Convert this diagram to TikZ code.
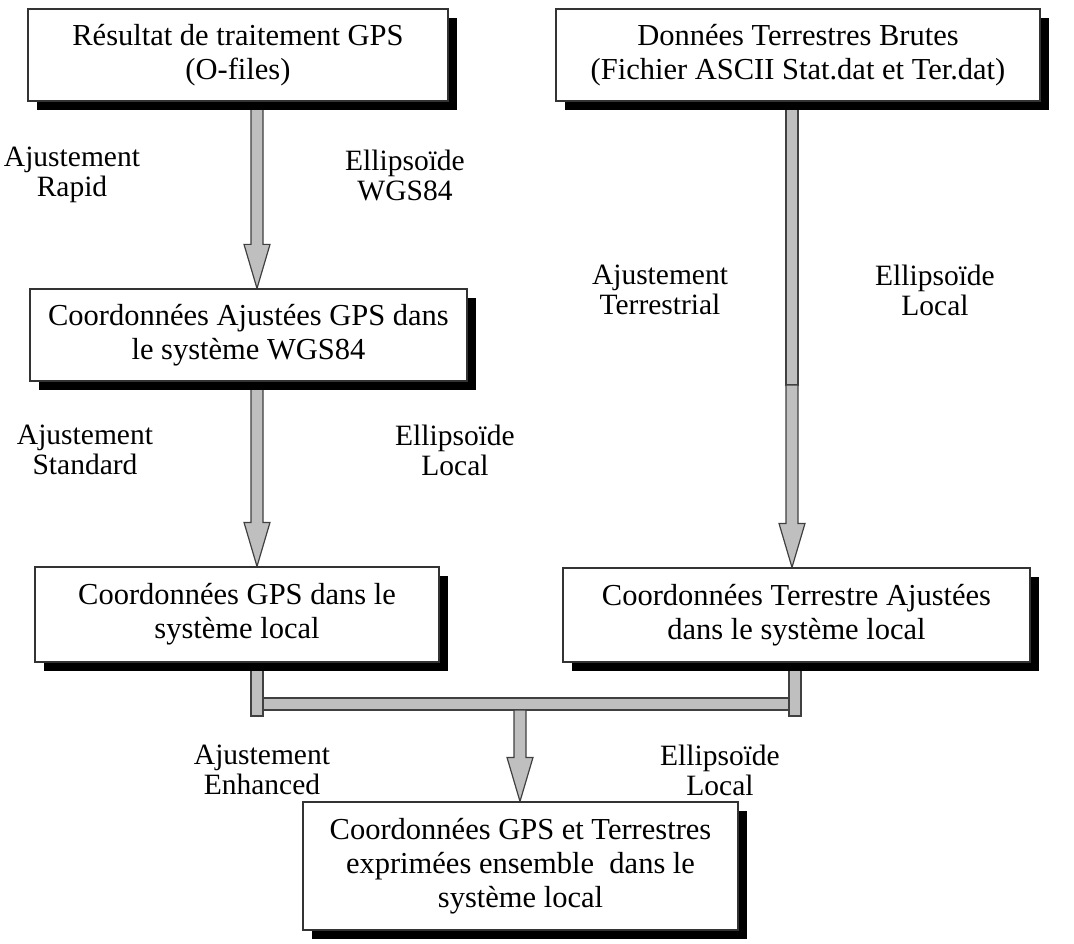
\documentclass[tikz,border=0pt]{standalone}
\usepackage{fontspec}
\setmainfont{Liberation Serif}
\usetikzlibrary{shadows,calc,backgrounds}

\begin{document}
\begin{tikzpicture}[x=1pt,y=1pt,
    font=\fontsize{30.5}{34}\selectfont,
    box/.style={draw=black!80, line width=1.2pt, fill=white, align=center, inner sep=0pt,
        drop shadow={shadow xshift=9pt, shadow yshift=-9pt, fill=black, opacity=1}},
    lbl/.style={align=center, font=\fontsize{29.5}{30}\selectfont},
    pipe/.style={draw=black!75, line width=1.2pt, fill=black!25},
    pipearrow/.style={pipe, to path={let \p1=(\tikztostart), \p2=(\tikztotarget) in
        (\x1-6pt,\y1) -- (\x1+6pt,\y1) -- (\x1+6pt,\y2+44pt) -- (\x1+13pt,\y2+44pt) --
        (\x1,\y2) -- (\x1-13pt,\y2+44pt) -- (\x1-6pt,\y2+44pt) -- cycle}},
    pipestub/.style={pipe, to path={let \p1=(\tikztostart), \p2=(\tikztotarget) in
        (\x1-6pt,\y1) rectangle (\x2+6pt,\y2)}},
    pipebar/.style={pipe, to path={let \p1=(\tikztostart), \p2=(\tikztotarget) in
        (\x1,\y1+6pt) rectangle (\x2,\y2-6pt)}}
]
\useasboundingbox (0,0) rectangle (1074,-944);

% Nodes
\node[box, minimum width=420pt, minimum height=92pt] (gps) at (238,-55) {Résultat de traitement GPS\\(O-files)};
\node[box, minimum width=484pt, minimum height=92pt] (brut) at (798,-55) {Données Terrestres Brutes\\(Fichier ASCII Stat.dat et Ter.dat)};
\node[box, minimum width=437pt, minimum height=92pt] (wgs) at (248.5,-335) {Coordonnées Ajustées GPS dans\\le système WGS84};
\node[box, minimum width=404pt, minimum height=95pt] (gpsloc) at (237,-614.5) {Coordonnées GPS dans le\\système local};
\node[box, minimum width=467pt, minimum height=94pt] (terloc) at (796.5,-615) {Coordonnées Terrestre Ajustées\\dans le système local};
\node[box, minimum width=435pt, minimum height=128pt] (final) at (520.5,-866) {Coordonnées GPS et Terrestres\\exprimées ensemble~ dans le\\système local};

\node[lbl] (aj1) at (72,-175) {Ajustement\\Rapid};
\node[lbl] (el1) at (405,-175) {Ellipsoïde\\WGS84};
\node[lbl] (aj2) at (660,-290) {Ajustement\\Terrestrial};
\node[lbl] (el2) at (935,-290) {Ellipsoïde\\Local};
\node[lbl] (aj3) at (85,-450) {Ajustement\\Standard};
\node[lbl] (el3) at (455,-450) {Ellipsoïde\\Local};
\node[lbl] (aj4) at (262,-770) {Ajustement\\Enhanced};
\node[lbl] (el4) at (720,-770) {Ellipsoïde\\Local};

\coordinate (xa) at (257,0);
\coordinate (xb) at (792,0);
\coordinate (xd) at (795,0);
\coordinate (mid) at (792,-385);
\coordinate (jl) at (257,-716);
\coordinate (jr) at (795,-716);
\coordinate (bl) at (263,-704);
\coordinate (br) at (789,-704);
\coordinate (bm) at (520,-710);

% Edges
\begin{pgfonlayer}{background}
\draw[pipearrow] (gps.south -| xa) to (wgs.north -| xa);
\draw[pipearrow] (wgs.south -| xa) to (gpsloc.north -| xa);
\draw[pipestub] (brut.south -| xb) to (mid);
\draw[pipearrow] (mid) to (terloc.north -| xb);

\draw[pipestub] (gpsloc.south -| xa) to (jl);
\draw[pipestub] (terloc.south -| xd) to (jr);
\draw[pipebar] (bl) to (br);
\draw[pipearrow] (bm) to (final.north -| bm);
\end{pgfonlayer}
\end{tikzpicture}
\end{document}
